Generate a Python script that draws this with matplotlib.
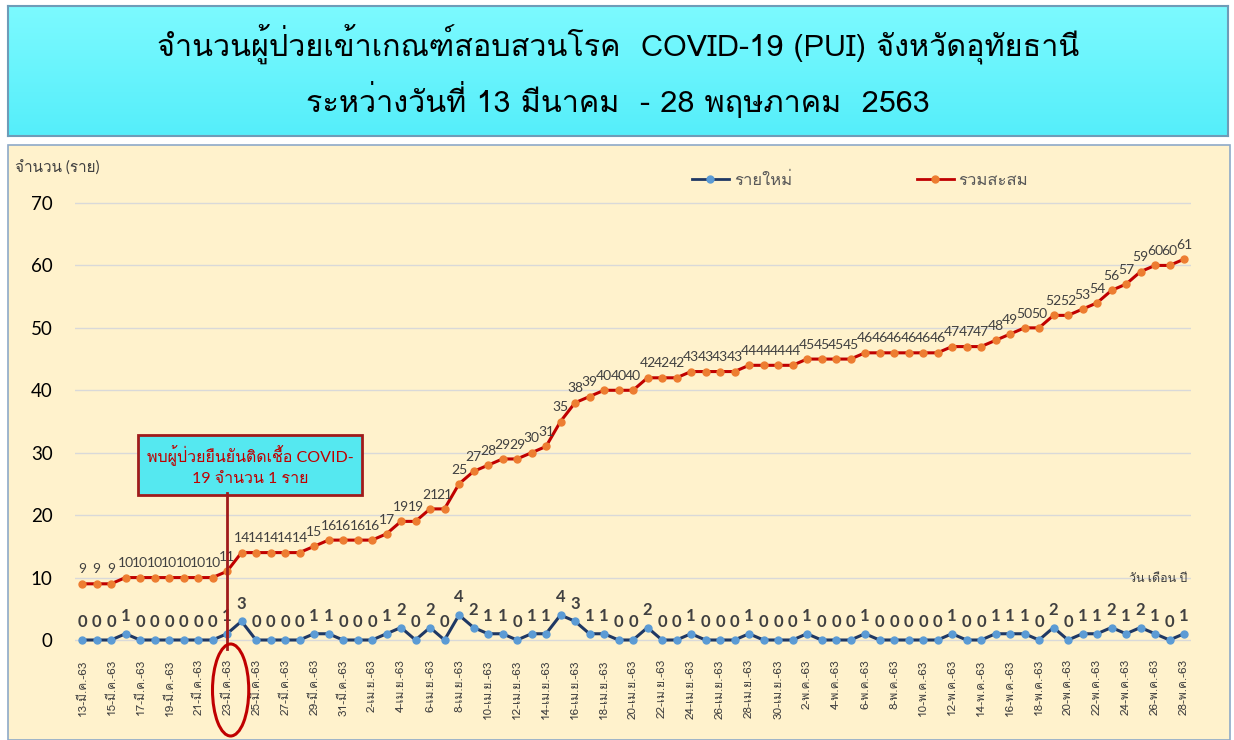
import numpy as np
import matplotlib
matplotlib.use("Agg")
import matplotlib.pyplot as plt
from matplotlib import font_manager
from matplotlib.ft2font import FT2Font
from matplotlib.patches import Rectangle, Ellipse
from matplotlib.lines import Line2D
from matplotlib.transforms import blended_transform_factory

# data: 13 Mar - 28 May 2563
new_cases = [0, 0, 0, 1, 0, 0, 0, 0, 0, 0, 1, 3, 0, 0, 0, 0, 1, 1, 0, 0,
             0, 1, 2, 0, 2, 0, 4, 2, 1, 1, 0, 1, 1, 4, 3, 1, 1, 0, 0, 2,
             0, 0, 1, 0, 0, 0, 1, 0, 0, 0, 1, 0, 0, 0, 1, 0, 0, 0, 0, 0,
             1, 0, 0, 1, 1, 1, 0, 2, 0, 1, 1, 2, 1, 2, 1, 0, 1]
cumulative = [9, 9, 9, 10, 10, 10, 10, 10, 10, 10, 11, 14, 14, 14, 14, 14, 15, 16, 16, 16,
              16, 17, 19, 19, 21, 21, 25, 27, 28, 29, 29, 30, 31, 35, 38, 39, 40, 40, 40, 42,
              42, 42, 43, 43, 43, 43, 44, 44, 44, 44, 45, 45, 45, 45, 46, 46, 46, 46, 46, 46,
              47, 47, 47, 48, 49, 50, 50, 52, 52, 53, 54, 56, 57, 59, 60, 60, 61]
months = [("มี.ค.", 13, 31), ("เม.ย.", 1, 30), ("พ.ค.", 1, 28)]
day_labels = [f"{d}-{m}-63" for m, d0, d1 in months for d in range(d0, d1 + 1)]
highlight_day = "23-มี.ค.-63"
yticks = [0, 10, 20, 30, 40, 50, 60, 70]

title = "จำนวนผู้ป่วยเข้าเกณฑ์สอบสวนโรค  COVID-19 (PUI) จังหวัดอุทัยธานี\nระหว่างวันที่ 13 มีนาคม  - 28 พฤษภาคม  2563"
note = "พบผู้ป่วยยืนยันติดเชื้อ COVID-\n19 จำนวน 1 ราย"


def find_thai_font():
    found = []
    for f in font_manager.fontManager.ttflist:
        try:
            cmap = FT2Font(f.fname).get_charmap()
        except Exception:
            continue
        if 0x0E01 in cmap and 0x0E48 in cmap:
            found.append(f)
    if not found:
        return None
    found.sort(key=lambda f: (f.style != "normal", abs(int(f.weight) - 400) if str(f.weight).isdigit() else 500))
    return found[0].name


thai = find_thai_font()
fams = ["Lato"] + ([thai] if thai else []) + ["DejaVu Sans"]
plt.rcParams["font.family"] = fams
tfam = ([thai] if thai else []) + ["DejaVu Sans"]

W, H = 1234, 740
fig = plt.figure(figsize=(W / 100, H / 100), dpi=100, facecolor="white")

# chart background panel
fig.patches.append(Rectangle((8 / W, 0), 1222 / W, (H - 145) / H, transform=fig.transFigure,
                             facecolor="#FFF2CC", edgecolor="#8EA9C8", lw=1.2, zorder=-5))

# title box with gradient
tax = fig.add_axes([8 / W, (H - 136) / H, 1220 / W, 130 / H])
grad = np.linspace(0, 1, 100).reshape(-1, 1)
cmap = matplotlib.colors.LinearSegmentedColormap.from_list("c", ["#7CFAFF", "#55EEFA"])
tax.imshow(grad, aspect="auto", cmap=cmap, extent=[0, 1, 0, 1])
tax.set_xlim(0, 1)
tax.set_ylim(0, 1)
tax.set_xticks([])
tax.set_yticks([])
for s in tax.spines.values():
    s.set_color("#6E9CB8")
    s.set_linewidth(1.5)
tax.text(0.5, 0.5, title, ha="center", va="center", fontsize=22, family=tfam,
         fontweight="normal", linespacing=1.55, color="black")

# main axes
n = len(cumulative)
x = np.arange(n)
ppu = 437 / 70
ylo, yhi = -1.5, 72
bottom = 640 + (-ylo) * ppu
top = 203 - (yhi - 70) * ppu
ax = fig.add_axes([74.75 / W, (H - bottom) / H, 1116.5 / W, (bottom - top) / H])
ax.set_facecolor("none")
ax.set_xlim(-0.5, n - 0.5)
ax.set_ylim(ylo, yhi)
for s in ax.spines.values():
    s.set_visible(False)
ax.set_yticks(yticks)
ax.tick_params(axis="y", length=0, labelsize=13.5, pad=16, labelcolor="#000000")
ax.grid(axis="y", color="#D9D9D9", lw=1)
ax.set_axisbelow(True)
ax.set_xticks(x[::2])
ax.set_xticklabels(day_labels[::2], rotation=90, fontsize=8.5, color="#404040", family=tfam)
ax.tick_params(axis="x", length=0, pad=7)

ax.plot(x, new_cases, color="#1F3864", lw=2.2, marker="o", ms=5,
        mfc="#5B9BD5", mec="#5B9BD5", zorder=3)
ax.plot(x, cumulative, color="#C00000", lw=2.2, marker="o", ms=5,
        mfc="#ED7D31", mec="#ED7D31", zorder=3)

for i in range(n):
    ax.annotate(str(cumulative[i]), (x[i], cumulative[i]), xytext=(0, 6),
                textcoords="offset points", ha="center", va="bottom",
                fontsize=10, color="#404040")
    ax.annotate(str(new_cases[i]), (x[i], new_cases[i]), xytext=(0, 7),
                textcoords="offset points", ha="center", va="bottom",
                fontsize=12, fontweight="bold", color="#404040")

# annotation for first confirmed case
hi = day_labels.index(highlight_day)
ax.text(11.6, 27.95, note, ha="center", va="center", ma="center", fontsize=11.5,
        color="#C00000", linespacing=1.6, family=["Lato"] + tfam,
        bbox=dict(boxstyle="square,pad=0.55", facecolor="#55E8F0", edgecolor="#A01B1B", lw=2))
ax.plot([x[hi], x[hi]], [ylo, 23.5], color="#A01B1B", lw=2, zorder=4, clip_on=False)

btr = blended_transform_factory(ax.transData, fig.transFigure)
fig.patches.append(Ellipse((x[hi] + 0.25, 50 / H), 2.5, 92 / H, transform=btr,
                           facecolor="none", edgecolor="#C00000", lw=2.2))

handles = [Line2D([], [], color="#1F3864", lw=2, marker="o", ms=5, mfc="#5B9BD5", mec="#5B9BD5"),
           Line2D([], [], color="#C00000", lw=2, marker="o", ms=5, mfc="#ED7D31", mec="#ED7D31")]
fig.legend(handles, ["รายใหม่", "รวมสะสม"], loc="center", bbox_to_anchor=(0.697, (H - 180) / H),
           ncol=2, frameon=False, fontsize=12, labelcolor="#595959", handlelength=2.2,
           columnspacing=7.5, handletextpad=0.3)

fig.text(15 / W, (H - 168) / H, "จำนวน (ราย)", ha="left", va="center", fontsize=11, color="#404040")
fig.text(1187 / W, (H - 578) / H, "วัน เดือน ปี", ha="right", va="center", fontsize=9, color="#404040")

fig.savefig("out.png", dpi=100, facecolor="white")
